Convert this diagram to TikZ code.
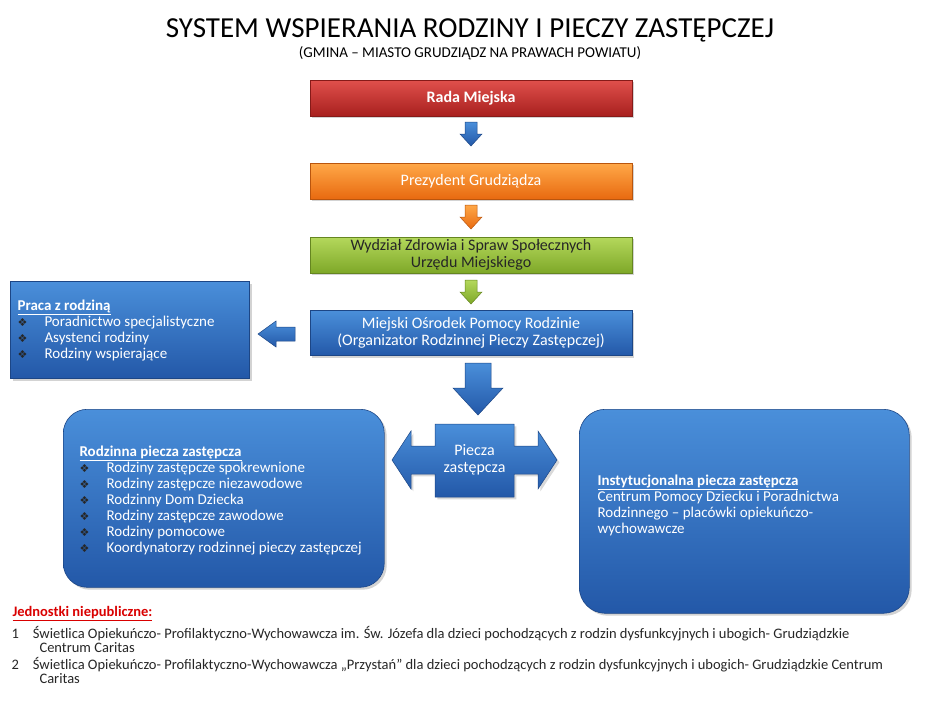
\documentclass[tikz,border=0pt]{standalone}
\usepackage{fontspec}
\setmainfont{Carlito}
\newfontfamily\djv{DejaVu Sans}
\usetikzlibrary{shadows}
\definecolor{bluetop}{HTML}{4A8FDA}
\definecolor{bluebot}{HTML}{2358A8}
\definecolor{redtop}{HTML}{E0504C}
\definecolor{redbot}{HTML}{A8201E}
\definecolor{ortop}{HTML}{FFA848}
\definecolor{orbot}{HTML}{E86A10}
\definecolor{grtop}{HTML}{B4D85C}
\definecolor{grbot}{HTML}{7EA828}
\tikzset{
 bx/.style={draw=bluebot!80!black, line width=0.6pt, top color=bluetop, bottom color=bluebot, text=white, drop shadow={opacity=0.35}},
 hdr/.style={bx, minimum width=322pt, minimum height=36pt, inner sep=2pt, font=\fontsize{16}{17}\selectfont, align=center},
 arr/.style={draw=#1bot!80!black, line width=0.5pt, top color=#1top, bottom color=#1bot},
 lst/.style={align=left, font=\fontsize{15}{16}\selectfont\raggedright},
}
\newcommand{\li}[1]{\makebox[27pt][l]{\textcolor{black!85}{\djv\fontsize{11}{11}\selectfont\char"2756}}#1\\}
\begin{document}
\begin{tikzpicture}[x=1pt,y=-1pt]
\useasboundingbox (0,0) rectangle (926,702);
\node (title) at (470,30) {\fontsize{29}{30}\selectfont SYSTEM WSPIERANIA RODZINY I PIECZY ZASTĘPCZEJ};
\node (sub) at (470,53) {\fontsize{15}{16}\selectfont (GMINA – MIASTO GRUDZIĄDZ NA PRAWACH POWIATU)};

\node[hdr, top color=redtop, bottom color=redbot, draw=redbot!80!black, font=\bfseries\fontsize{16}{17}\selectfont] (rada) at (471,98) {Rada Miejska};
\node[hdr, top color=ortop, bottom color=orbot, draw=orbot!80!black] (prez) at (471,181) {Prezydent Grudziądza};
\node[hdr, top color=grtop, bottom color=grbot, draw=grbot!80!black, text=black!85] (wydz) at (471,255) {Wydział Zdrowia i Spraw Społecznych\\Urzędu Miejskiego};
\node[hdr, minimum height=45pt] (mops) at (471,333) {Miejski Ośrodek Pomocy Rodzinie\\(Organizator Rodzinnej Pieczy Zastępczej)};

\foreach \y/\c in {122/blue,205/or,280/gr}{
 \draw[arr=\c] (471,\y) ++(-6,0) -- ++(12,0) -- ++(0,12) -- ++(5,0) -- (471,\y+24) -- ++(-11,-12) -- ++(5,0) -- cycle;
}
\draw[arr=blue] (295,327) -- (276,327) -- (276,321) -- (258,334) -- (276,347) -- (276,341) -- (295,341) -- cycle;
\draw[arr=blue] (465,363) -- (491,363) -- (491,388) -- (503,388) -- (478,415) -- (453,388) -- (465,388) -- cycle;

\node[bx, minimum width=239pt, minimum height=97pt, anchor=north west, inner sep=0pt] (praca) at (10,281) {};
\node[lst, text=white, anchor=north west] (pracatxt) at (14,296) {\textbf{\underline{Praca z rodziną}}\\ \li{Poradnictwo specjalistyczne}\li{Asystenci rodziny}\li{Rodziny wspierające}};

\node[bx, rounded corners=24pt, minimum width=321pt, minimum height=178pt, anchor=north west, inner sep=0pt] (rodz) at (63,409) {};
\node[lst, text=white, anchor=north west] (rodztxt) at (76,442) {\textbf{\underline{Rodzinna piecza zastępcza}}\\ \li{Rodziny zastępcze spokrewnione}\li{Rodziny zastępcze niezawodowe}\li{Rodzinny Dom Dziecka}\li{Rodziny zastępcze zawodowe}\li{Rodziny pomocowe}\li{Koordynatorzy rodzinnej pieczy zastępczej}};

\node[bx, rounded corners=26pt, minimum width=330pt, minimum height=204pt, anchor=north west] (inst) at (579,409) {};
\node[lst, anchor=north west, text=white] (insttxt) at (594,471) {\textbf{\underline{Instytucjonalna piecza zastępcza}}\\Centrum Pomocy Dziecku i Poradnictwa\\Rodzinnego – placówki opiekuńczo-\\wychowawcze};

\draw[arr=blue, drop shadow={opacity=0.3}] (435,424) -- (514,424) -- (514,446) -- (538,446) -- (538,431) -- (557,460) -- (538,489) -- (538,474) -- (514,474) -- (514,497) -- (435,497) -- (435,474) -- (411,474) -- (411,489) -- (392,460) -- (411,431) -- (411,446) -- (435,446) -- cycle;
\node[text=white, align=center, font=\fontsize{16}{17}\selectfont] (piecza) at (474.5,460) {Piecza\\zastępcza};

\node[anchor=west, text=red!85!black, font=\bfseries\fontsize{14.5}{15}\selectfont] (jn) at (9,614) {\underline{Jednostki niepubliczne:}};
\node[anchor=north west, align=left, font=\fontsize{14.5}{14}\selectfont, text=black!85] (n1) at (8,623) {1\hspace{14pt}Świetlica Opiekuńczo- Profilaktyczno-Wychowawcza im. Św. Józefa dla dzieci pochodzących z rodzin dysfunkcyjnych i ubogich- Grudziądzkie\\\hspace{28pt}Centrum Caritas};
\node[anchor=north west, align=left, font=\fontsize{14.5}{14}\selectfont, text=black!85] (n2) at (8,654) {2\hspace{14pt}Świetlica Opiekuńczo- Profilaktyczno-Wychowawcza „Przystań” dla dzieci pochodzących z rodzin dysfunkcyjnych i ubogich- Grudziądzkie Centrum\\\hspace{28pt}Caritas};
\end{tikzpicture}
\end{document}
